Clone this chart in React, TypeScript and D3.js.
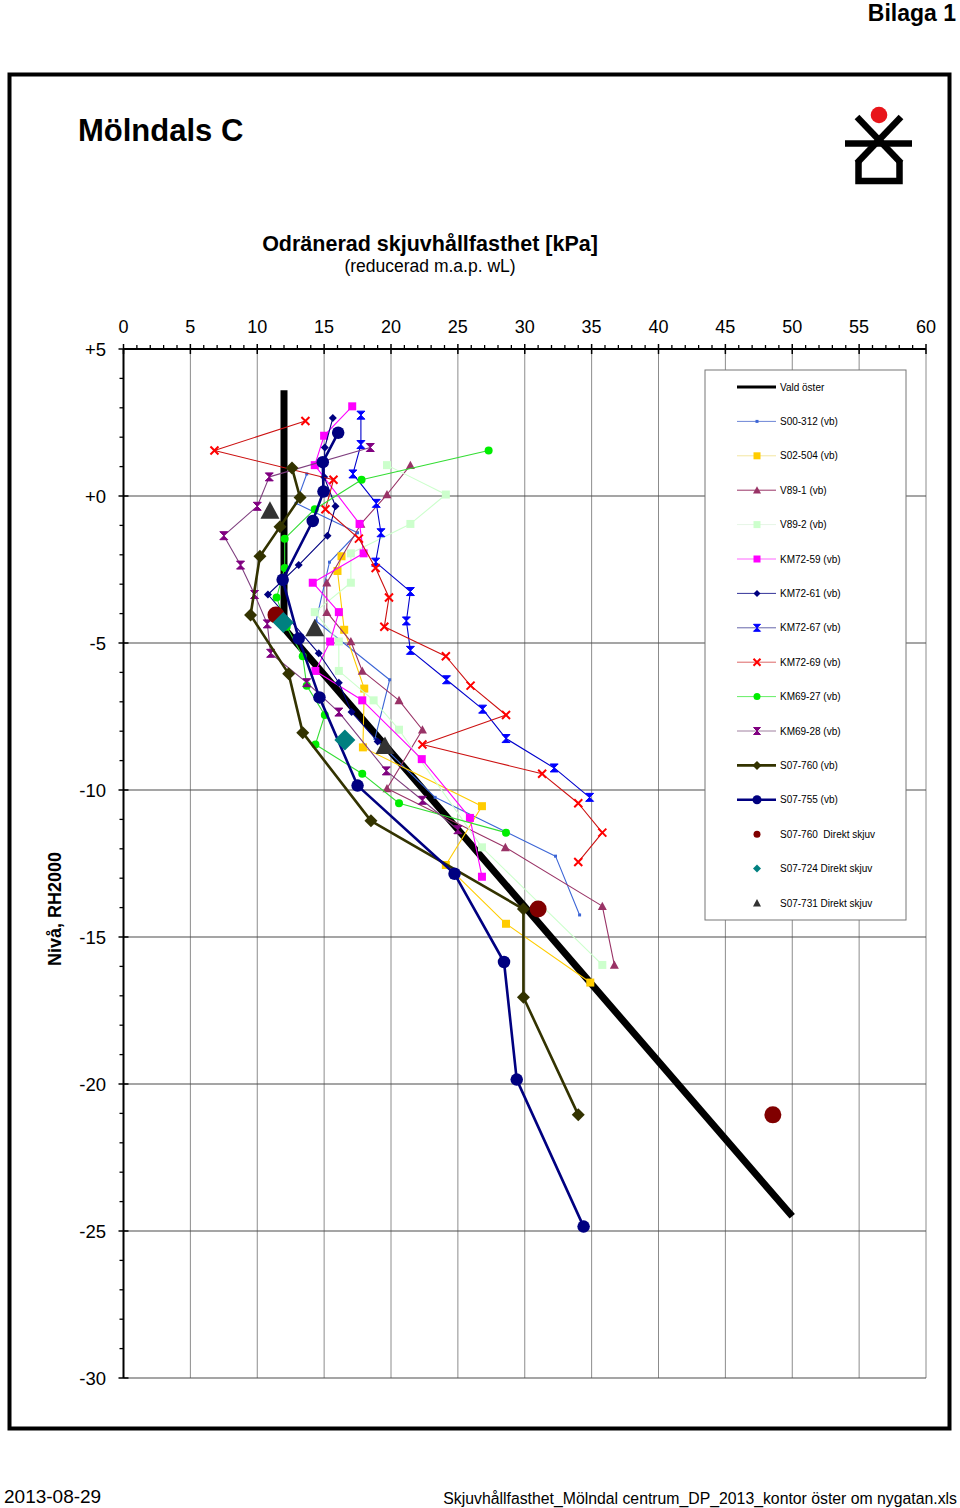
import React from 'react';
import * as d3 from 'd3';

// ---------- DATA ----------
const xTicks = [0, 5, 10, 15, 20, 25, 30, 35, 40, 45, 50, 55, 60];
const yTicks = [5, 0, -5, -10, -15, -20, -25, -30];
const yTickLabels = ['+5', '+0', '-5', '-10', '-15', '-20', '-25', '-30'];

const valdOsterKPa = [12, 12, 50];
const valdOsterLevel = [3.6, -4.5, -24.5];

const s00_312KPa = [13.7, 12.9, 17.5, 15.4, 14.4, 19.9, 18.8, 23.3, 32.3, 34.1];
const s00_312Level = [0.75, -0.25, -1.25, -2.25, -4.25, -6.25, -8.25, -10.25, -12.25, -14.25];

const s02_504KPa = [16.3, 16.0, 16.5, 18.0, 17.9, 26.8, 24.1, 28.6, 34.9];
const s02_504Level = [-2.05, -2.55, -4.55, -6.55, -8.55, -10.55, -12.55, -14.55, -16.55];

const v89_1KPa = [21.45, 19.7, 17.75, 15.2, 15.2, 17.0, 17.85, 20.6, 22.35, 19.7, 28.55, 35.8, 36.7];
const v89_1Level = [1.05, 0.05, -0.95, -2.95, -3.95, -4.95, -5.95, -6.95, -7.95, -9.95, -11.95, -13.95, -15.95];

const v89_2KPa = [19.7, 24.1, 21.45, 17.0, 17.0, 14.3, 16.1, 16.1, 18.7, 20.6, 26.8, 35.8];
const v89_2Level = [1.05, 0.05, -0.95, -1.95, -2.95, -3.95, -4.95, -5.95, -6.95, -7.95, -11.95, -15.95];

const km72_59KPa = [17.1, 15.0, 14.3, 17.65, 17.95, 14.15, 16.1, 15.45, 14.35, 17.85, 22.3, 25.9, 26.8];
const km72_59Level = [3.05, 2.05, 1.05, -0.95, -1.95, -2.95, -3.95, -4.95, -5.95, -6.95, -8.95, -10.95, -12.95];

const km72_61KPa = [15.65, 15.05, 15.0, 15.85, 15.25, 13.1, 10.8, 14.6, 16.1, 17.05, 19.0];
const km72_61Level = [2.65, 1.65, 0.65, -0.35, -1.35, -2.35, -3.35, -5.35, -6.35, -7.35, -8.35];

const km72_67KPa = [17.75, 17.75, 17.15, 18.9, 19.25, 18.85, 21.45, 21.15, 21.45, 24.15, 26.85, 28.6, 32.2, 34.85];
const km72_67Level = [2.75, 1.75, 0.75, -0.25, -1.25, -2.25, -3.25, -4.25, -5.25, -6.25, -7.25, -8.25, -9.25, -10.25];

const km72_69KPa = [13.6, 6.8, 15.7, 15.1, 17.6, 18.85, 19.85, 19.5, 24.1, 25.95, 28.6, 22.35, 31.3, 34.0, 35.8, 34.0];
const km72_69Level = [2.55, 1.55, 0.55, -0.45, -1.45, -2.45, -3.45, -4.45, -5.45, -6.45, -7.45, -8.45, -9.45, -10.45, -11.45, -12.45];

const km69_27KPa = [27.3, 17.8, 14.3, 12.05, 12.05, 11.45, 12.2, 13.4, 13.7, 15.05, 14.35, 17.85, 20.6, 28.6];
const km69_27Level = [1.55, 0.55, -0.45, -1.45, -2.45, -3.45, -4.45, -5.45, -6.45, -7.45, -8.45, -9.45, -10.45, -11.45];

const km69_28KPa = [18.45, 10.9, 10.0, 7.5, 8.75, 9.8, 10.75, 11.0, 13.7, 16.1, 19.65, 22.35, 25.0];
const km69_28Level = [1.65, 0.65, -0.35, -1.35, -2.35, -3.35, -4.35, -5.35, -6.35, -7.35, -9.35, -10.35, -11.35];

const s07_760KPa = [12.6, 13.2, 11.7, 10.2, 9.5, 12.35, 13.4, 18.5, 29.9, 29.9, 34.0];
const s07_760Level = [0.95, -0.05, -1.05, -2.05, -4.05, -6.05, -8.05, -11.05, -14.05, -17.05, -21.05];

const s07_755KPa = [16.05, 14.9, 14.95, 14.15, 11.9, 13.1, 14.65, 17.5, 24.75, 28.45, 29.4, 34.4];
const s07_755Level = [2.15, 1.15, 0.15, -0.85, -2.85, -4.85, -6.85, -9.85, -12.85, -15.85, -19.85, -24.85];

const s07_760dsKPa = [11.4, 31.0, 48.55];
const s07_760dsLevel = [-4.05, -14.05, -21.05];

const s07_724dsKPa = [11.95, 16.55];
const s07_724dsLevel = [-4.3, -8.3];

const s07_731dsKPa = [10.95, 14.3, 19.55];
const s07_731dsLevel = [-0.5, -4.5, -8.5];

// ---------- STYLE ----------
type Shape = 'none' | 'smallsq' | 'square' | 'triangle' | 'diamond' | 'hourglass' | 'x' | 'circle';
interface Series {
  name: string; kpa: number[]; level: number[];
  line: string | null; lw: number; shape: Shape; mColor: string; mSize: number;
  lgLine: string | null; lgLw: number; lgSize: number;
}

const series: Series[] = [
  { name: 'Vald öster', kpa: valdOsterKPa, level: valdOsterLevel, line: '#000', lw: 7, shape: 'none', mColor: '#000', mSize: 0, lgLine: '#000', lgLw: 3, lgSize: 0 },
  { name: 'S00-312 (vb)', kpa: s00_312KPa, level: s00_312Level, line: '#3d66d6', lw: 1.1, shape: 'smallsq', mColor: '#3d66d6', mSize: 3, lgLine: '#6d86d6', lgLw: 1, lgSize: 3 },
  { name: 'S02-504 (vb)', kpa: s02_504KPa, level: s02_504Level, line: '#ffcc00', lw: 1.1, shape: 'square', mColor: '#ffcc00', mSize: 8, lgLine: '#f3e6a0', lgLw: 1, lgSize: 7 },
  { name: 'V89-1 (vb)', kpa: v89_1KPa, level: v89_1Level, line: '#993366', lw: 1.1, shape: 'triangle', mColor: '#993366', mSize: 9, lgLine: '#993366', lgLw: 1, lgSize: 8 },
  { name: 'V89-2 (vb)', kpa: v89_2KPa, level: v89_2Level, line: '#ccffcc', lw: 1.1, shape: 'square', mColor: '#ccffcc', mSize: 8, lgLine: '#e6f6e6', lgLw: 1, lgSize: 7 },
  { name: 'KM72-59 (vb)', kpa: km72_59KPa, level: km72_59Level, line: '#ff00ff', lw: 1.1, shape: 'square', mColor: '#ff00ff', mSize: 8, lgLine: '#ff66ff', lgLw: 1, lgSize: 7 },
  { name: 'KM72-61 (vb)', kpa: km72_61KPa, level: km72_61Level, line: '#000080', lw: 1.1, shape: 'diamond', mColor: '#000080', mSize: 8, lgLine: '#333399', lgLw: 1, lgSize: 7 },
  { name: 'KM72-67 (vb)', kpa: km72_67KPa, level: km72_67Level, line: '#0000cc', lw: 1.1, shape: 'hourglass', mColor: '#0000ff', mSize: 8, lgLine: '#6666aa', lgLw: 1, lgSize: 7 },
  { name: 'KM72-69 (vb)', kpa: km72_69KPa, level: km72_69Level, line: '#cc1111', lw: 1.1, shape: 'x', mColor: '#ff0000', mSize: 8, lgLine: '#dd6666', lgLw: 1, lgSize: 7 },
  { name: 'KM69-27 (vb)', kpa: km69_27KPa, level: km69_27Level, line: '#33dd33', lw: 1.1, shape: 'circle', mColor: '#00ee00', mSize: 8, lgLine: '#66ee66', lgLw: 1, lgSize: 7 },
  { name: 'KM69-28 (vb)', kpa: km69_28KPa, level: km69_28Level, line: '#7f3f7f', lw: 1.1, shape: 'hourglass', mColor: '#800080', mSize: 8, lgLine: '#a080a0', lgLw: 1, lgSize: 7 },
  { name: 'S07-760 (vb)', kpa: s07_760KPa, level: s07_760Level, line: '#333300', lw: 2.6, shape: 'diamond', mColor: '#333300', mSize: 13, lgLine: '#333300', lgLw: 2.6, lgSize: 9 },
  { name: 'S07-755 (vb)', kpa: s07_755KPa, level: s07_755Level, line: '#000080', lw: 2.6, shape: 'circle', mColor: '#000080', mSize: 12.5, lgLine: '#000080', lgLw: 2.6, lgSize: 9 },
  { name: 'S07-760  Direkt skjuv', kpa: s07_760dsKPa, level: s07_760dsLevel, line: null, lw: 0, shape: 'circle', mColor: '#800000', mSize: 17, lgLine: null, lgLw: 0, lgSize: 7 },
  { name: 'S07-724 Direkt skjuv', kpa: s07_724dsKPa, level: s07_724dsLevel, line: null, lw: 0, shape: 'diamond', mColor: '#008080', mSize: 21, lgLine: null, lgLw: 0, lgSize: 8 },
  { name: 'S07-731 Direkt skjuv', kpa: s07_731dsKPa, level: s07_731dsLevel, line: null, lw: 0, shape: 'triangle', mColor: '#333333', mSize: 19, lgLine: null, lgLw: 0, lgSize: 8 },
];

const FONT = "Arial, 'Liberation Sans', Helvetica, sans-serif";

function markerPath(shape: Shape, s: number): string {
  const h = s / 2;
  switch (shape) {
    case 'smallsq': case 'square': return `M${-h},${-h}H${h}V${h}H${-h}Z`;
    case 'triangle': return `M0,${-h}L${h},${h * 0.85}L${-h},${h * 0.85}Z`;
    case 'diamond': return `M0,${-h}L${h},0L0,${h}L${-h},0Z`;
    case 'hourglass': return `M${-h},${-h}H${h}L${-h},${h}H${h}Z`;
    case 'x': return `M${-h},${-h}L${h},${h}M${h},${-h}L${-h},${h}`;
    default: return '';
  }
}

function Marker({ shape, size, color, x, y }: { shape: Shape; size: number; color: string; x: number; y: number }) {
  if (shape === 'none') return null;
  if (shape === 'circle') return <circle cx={x} cy={y} r={size / 2} fill={color} />;
  if (shape === 'x')
    return <path d={markerPath(shape, size)} transform={`translate(${x},${y})`} stroke={color} strokeWidth={2} fill="none" />;
  return <path d={markerPath(shape, size)} transform={`translate(${x},${y})`} fill={color} stroke={shape === 'hourglass' ? color : 'none'} strokeWidth={shape === 'hourglass' ? 1 : 0} />;
}

export default function App() {
  const x = d3.scaleLinear().domain([0, 60]).range([123.5, 926]);
  const y = d3.scaleLinear().domain([5, -30]).range([349, 1378]);
  const line = d3.line<[number, number]>().x(d => x(d[0])).y(d => y(d[1]));

  const minorX = d3.range(0, 61, 1).filter(v => v % 5 !== 0);
  const minorY = d3.range(-30, 6, 1).filter(v => v % 5 !== 0);

  const lgX0 = 705, lgY0 = 370, lgW = 201, lgH = 550;
  const lgFirst = 387, lgStep = 34.4;

  return (
    <svg width={960} height={1508} style={{ position: 'absolute', left: 0, top: 0, background: '#fff' }} fontFamily={FONT}>
      <rect x={0} y={0} width={960} height={1508} fill="#fff" />
      <text x={956} y={21} textAnchor="end" fontSize={23} fontWeight="bold">Bilaga 1</text>
      <rect x={9.5} y={74.5} width={940} height={1354} fill="none" stroke="#000" strokeWidth={4} />

      <text x={78} y={141} fontSize={31} fontWeight="bold">Mölndals C</text>

      {/* logo */}
      <g stroke="#000" strokeWidth={6.5} fill="none" strokeLinecap="butt">
        <line x1={857} y1={117} x2={901} y2={163} />
        <line x1={901} y1={117} x2={857} y2={163} />
        <line x1={845} y1={143.5} x2={912} y2={143.5} />
        <polyline points="858.5,161 858.5,181 899.5,181 899.5,161" strokeLinejoin="miter" />
      </g>
      <circle cx={879} cy={115} r={8.3} fill="#e8161b" />

      <text x={430} y={251} textAnchor="middle" fontSize={21.5} fontWeight="bold">Odränerad skjuvhållfasthet [kPa]</text>
      <text x={430} y={272} textAnchor="middle" fontSize={17.5}>(reducerad m.a.p. wL)</text>

      {/* grid */}
      {xTicks.filter(v => v > 0).map(v => (
        <line key={'gx' + v} x1={x(v)} x2={x(v)} y1={y(5)} y2={y(-30)} stroke="#8c8c8c" strokeWidth={1} />
      ))}
      {yTicks.filter(v => v < 5).map(v => (
        <line key={'gy' + v} x1={x(0)} x2={x(60)} y1={y(v)} y2={y(v)} stroke="#4d4d4d" strokeWidth={1.2} />
      ))}

      {/* axes */}
      <line x1={x(0)} x2={x(60)} y1={y(5)} y2={y(5)} stroke="#000" strokeWidth={2} />
      <line x1={x(0)} x2={x(0)} y1={y(5)} y2={y(-30)} stroke="#000" strokeWidth={2} />
      {minorX.map(v => <line key={'mx' + v} x1={x(v)} x2={x(v)} y1={y(5) - 4} y2={y(5)} stroke="#000" strokeWidth={1.3} />)}
      {xTicks.map(v => <line key={'Mx' + v} x1={x(v)} x2={x(v)} y1={y(5) - 5} y2={y(5) + 5} stroke="#000" strokeWidth={1.5} />)}
      {minorY.map(v => <line key={'my' + v} x1={x(0) - 4} x2={x(0)} y1={y(v)} y2={y(v)} stroke="#000" strokeWidth={1.3} />)}
      {yTicks.map(v => <line key={'My' + v} x1={x(0) - 5} x2={x(0) + 5} y1={y(v)} y2={y(v)} stroke="#000" strokeWidth={1.5} />)}

      {xTicks.map(v => (
        <text key={'tx' + v} x={x(v)} y={333} textAnchor="middle" fontSize={18}>{v}</text>
      ))}
      {yTicks.map((v, i) => (
        <text key={'ty' + v} x={106} y={y(v) + 6.5} textAnchor="end" fontSize={18.5}>{yTickLabels[i]}</text>
      ))}
      <text transform="translate(61,909) rotate(-90)" textAnchor="middle" fontSize={18} fontWeight="bold">Nivå, RH2000</text>

      {/* series */}
      {series.map((s, si) => {
        const pts = s.kpa.map((k, i) => [k, s.level[i]] as [number, number]);
        return (
          <g key={'s' + si}>
            {s.line && <path d={line(pts) || ''} fill="none" stroke={s.line} strokeWidth={s.lw} strokeLinejoin={si === 0 ? 'miter' : 'round'} />}
            {pts.map((p, i) => <Marker key={i} shape={s.shape} size={s.mSize} color={s.mColor} x={x(p[0])} y={y(p[1])} />)}
          </g>
        );
      })}

      {/* legend */}
      <rect x={lgX0} y={lgY0} width={lgW} height={lgH} fill="#fff" stroke="#777" strokeWidth={1} />
      {series.map((s, i) => {
        const ly = lgFirst + i * lgStep;
        return (
          <g key={'lg' + i}>
            {s.lgLine && <line x1={737} x2={776} y1={ly} y2={ly} stroke={s.lgLine} strokeWidth={s.lgLw} />}
            <Marker shape={s.shape} size={s.lgSize} color={s.mColor} x={757} y={ly} />
            <text x={780} y={ly + 3.5} fontSize={10} style={{ whiteSpace: 'pre' }}>{s.name}</text>
          </g>
        );
      })}

      {/* footer */}
      <text x={4} y={1503} fontSize={19}>2013-08-29</text>
      <text x={957} y={1504} textAnchor="end" fontSize={15.8}>Skjuvhållfasthet_Mölndal centrum_DP_2013_kontor öster om nygatan.xls</text>
    </svg>
  );
}
